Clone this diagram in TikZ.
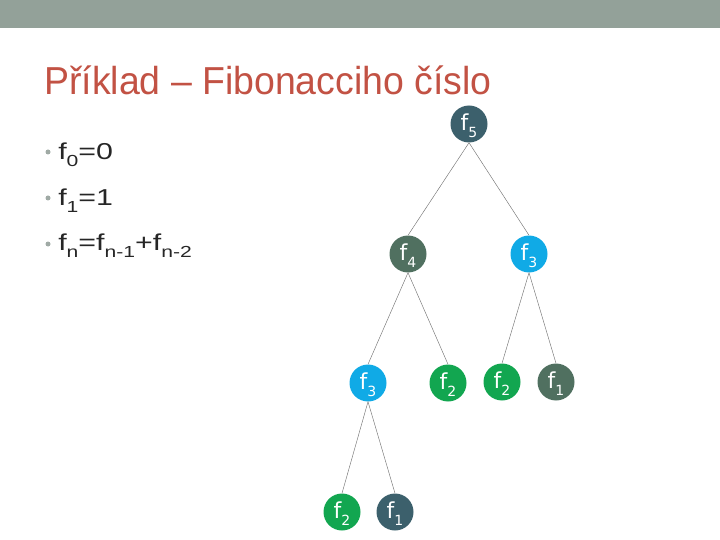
\documentclass[tikz,border=0pt]{standalone}
\usepackage{fontspec}
\setmainfont{Liberation Sans}
\newfontfamily\dvfont{DejaVu Sans}
\definecolor{barcol}{RGB}{147,161,153}
\definecolor{titlecol}{RGB}{194,82,68}
\definecolor{bulletcol}{RGB}{160,170,165}
\definecolor{slate}{RGB}{60,96,108}
\definecolor{moss}{RGB}{80,112,96}
\definecolor{cyanc}{RGB}{16,170,230}
\definecolor{greenc}{RGB}{18,166,80}
\newcommand{\fib}[1]{\raisebox{-6.5pt}[0pt][0pt]{\dvfont\fontsize{22}{22}\selectfont f\raisebox{-7pt}{\fontsize{14}{14}\selectfont #1}}}
\newcommand{\bsub}[1]{\raisebox{-7pt}{\fontsize{16}{16}\selectfont #1}}
\tikzset{
  fnode/.style={circle, minimum size=37pt, inner sep=0pt, text=white},
  edge/.style={draw=black!55, line width=0.45pt},
  bodytext/.style={anchor=base west, inner sep=0pt, text=black!85, font=\fontsize{23}{26}\selectfont, xscale=1.32, transform shape},
  bul/.style={circle, fill=bulletcol, inner sep=0pt, minimum size=5pt}
}
\begin{document}
\begin{tikzpicture}[x=1pt,y=-1pt]
\useasboundingbox (0,0) rectangle (720,540);
\fill[barcol] (0,0) rectangle (720,28);
\node[anchor=base west, inner sep=0pt, text=titlecol, font=\fontsize{39}{44}\selectfont, xscale=0.96, transform shape] (title) at (44,95) {Příklad – Fibonacciho číslo};
% bullets
\node[bul] (b1) at (48,152) {};
\node[bul] (b2) at (48,198) {};
\node[bul] (b3) at (48,244) {};
\node[bodytext] (t1) at (58,160) {f\bsub{0}=0};
\node[bodytext] (t2) at (58,206) {f\bsub{1}=1};
\node[bodytext] (t3) at (58,251) {f\bsub{n}=f\bsub{n-1}+f\bsub{n-2}};
% tree
\node[fnode, fill=slate] (a) at (469,124) {\fib{5}};
\node[fnode, fill=moss] (b) at (408,254) {\fib{4}};
\node[fnode, fill=cyanc] (c) at (529,254) {\fib{3}};
\node[fnode, fill=cyanc] (d) at (368,383) {\fib{3}};
\node[fnode, fill=greenc] (e) at (448,383) {\fib{2}};
\node[fnode, fill=greenc] (f) at (502,382) {\fib{2}};
\node[fnode, fill=moss] (g) at (556,382) {\fib{1}};
\node[fnode, fill=greenc] (h) at (342,512) {\fib{2}};
\node[fnode, fill=slate] (i) at (395,512) {\fib{1}};
\draw[edge] (a.south) -- (b.north);
\draw[edge] (a.south) -- (c.north);
\draw[edge] (b.south) -- (d.north);
\draw[edge] (b.south) -- (e.north);
\draw[edge] (c.south) -- (f.north);
\draw[edge] (c.south) -- (g.north);
\draw[edge] (d.south) -- (h.north);
\draw[edge] (d.south) -- (i.north);
\end{tikzpicture}
\end{document}
